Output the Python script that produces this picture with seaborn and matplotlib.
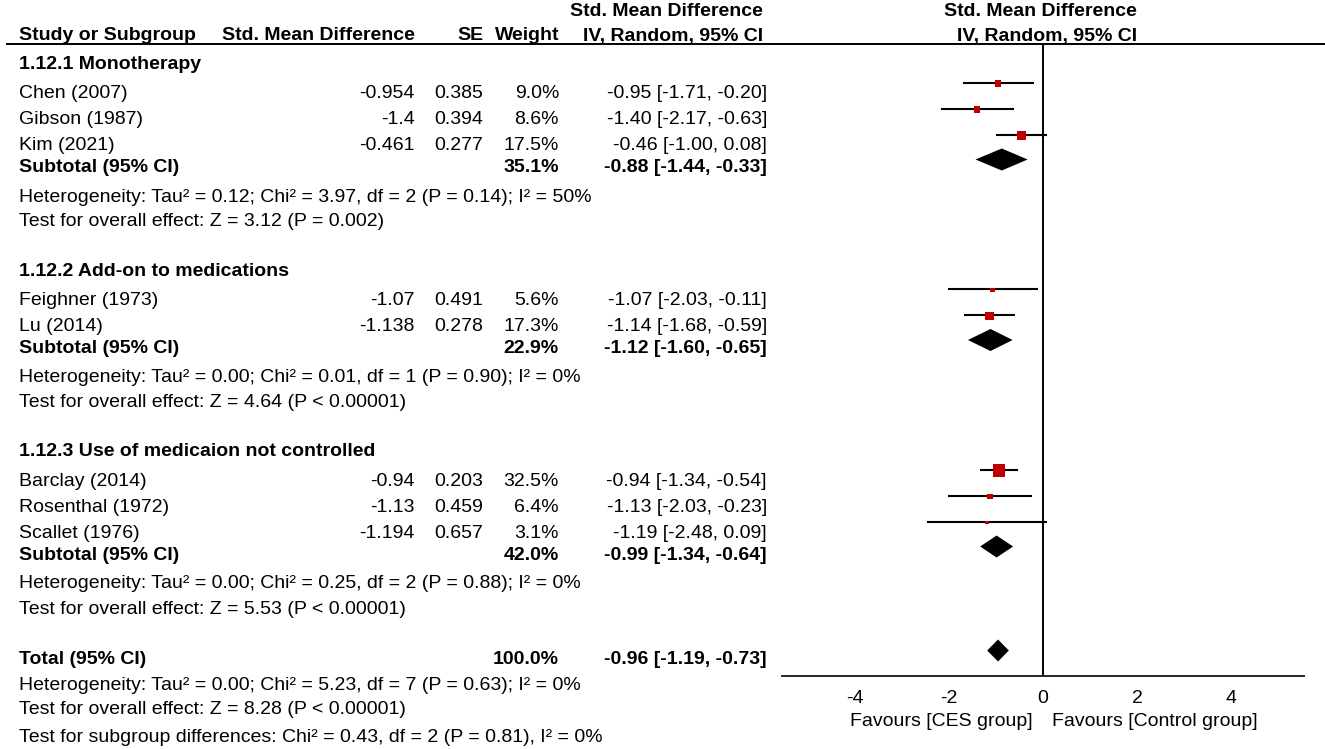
import numpy as np
import pandas as pd
import matplotlib
matplotlib.use('Agg')
import matplotlib.pyplot as plt
import seaborn as sns

# Study level data
groups = ['1.12.1 Monotherapy', '1.12.2 Add-on to medications',
          '1.12.3 Use of medicaion not controlled']
studies = ['Chen (2007)', 'Gibson (1987)', 'Kim (2021)',
           'Feighner (1973)', 'Lu (2014)',
           'Barclay (2014)', 'Rosenthal (1972)', 'Scallet (1976)']
study_group = [0, 0, 0, 1, 1, 2, 2, 2]
smd = [-0.954, -1.4, -0.461, -1.07, -1.138, -0.94, -1.13, -1.194]
se = [0.385, 0.394, 0.277, 0.491, 0.278, 0.203, 0.459, 0.657]
weight = [9.0, 8.6, 17.5, 5.6, 17.3, 32.5, 6.4, 3.1]
ci_lo = [-1.71, -2.17, -1.00, -2.03, -1.68, -1.34, -2.03, -2.48]
ci_hi = [-0.20, -0.63, 0.08, -0.11, -0.59, -0.54, -0.23, 0.09]

# Subtotals per subgroup, then the overall total
sub_weight = [35.1, 22.9, 42.0]
sub_est = [-0.88, -1.12, -0.99]
sub_lo = [-1.44, -1.60, -1.34]
sub_hi = [-0.33, -0.65, -0.64]
total_weight = 100.0
total_est, total_lo, total_hi = -0.96, -1.19, -0.73

het_text = ['Heterogeneity: Tau² = 0.12; Chi² = 3.97, df = 2 (P = 0.14); I² = 50%',
            'Heterogeneity: Tau² = 0.00; Chi² = 0.01, df = 1 (P = 0.90); I² = 0%',
            'Heterogeneity: Tau² = 0.00; Chi² = 0.25, df = 2 (P = 0.88); I² = 0%']
effect_text = ['Test for overall effect: Z = 3.12 (P = 0.002)',
               'Test for overall effect: Z = 4.64 (P < 0.00001)',
               'Test for overall effect: Z = 5.53 (P < 0.00001)']
total_het = 'Heterogeneity: Tau² = 0.00; Chi² = 5.23, df = 7 (P = 0.63); I² = 0%'
total_effect = 'Test for overall effect: Z = 8.28 (P < 0.00001)'
subgroup_test = 'Test for subgroup differences: Chi² = 0.43, df = 2 (P = 0.81), I² = 0%'

xticks = [-4, -2, 0, 2, 4]

# ---- layout (figure pixels) ----
W, H = 1325, 749
FS = 14.0
TEXT_DY = 2.5
RED = '#c00000'
X_NAME, X_SMD, X_SE, X_W, X_CI, X_CIHEAD, X_RHEAD = 19, 415, 483, 559, 767, 763, 1137
AX_TOP, AX_BOT = 44, 676

sns.set_style('white')
plt.rcParams['font.family'] = ['Liberation Sans', 'DejaVu Sans']

fig = plt.figure(figsize=(W / 100, H / 100), dpi=100)
bg = fig.add_axes([0, 0, 1, 1])
bg.set_xlim(0, W)
bg.set_ylim(H, 0)
bg.axis('off')


def txt(x, y, s, ha='left', bold=False):
    bg.text(x, y + TEXT_DY, s, ha=ha, va='center', fontsize=FS,
            fontweight='bold' if bold else 'normal', color='black')


# column headers
txt(X_CIHEAD, 9, 'Std. Mean Difference', ha='right', bold=True)
txt(X_RHEAD, 9, 'Std. Mean Difference', ha='right', bold=True)
txt(X_NAME, 33.5, 'Study or Subgroup', bold=True)
txt(X_SMD, 33.5, 'Std. Mean Difference', ha='right', bold=True)
txt(X_SE, 33.5, 'SE', ha='right', bold=True)
txt(X_W, 33.5, 'Weight', ha='right', bold=True)
txt(X_CIHEAD, 33.5, 'IV, Random, 95% CI', ha='right', bold=True)
txt(X_RHEAD, 33.5, 'IV, Random, 95% CI', ha='right', bold=True)
bg.plot([6, W], [AX_TOP, AX_TOP], color='black', lw=1.4, solid_capstyle='butt')

# row positions
study_y = np.zeros(len(studies))
sub_y = []
y = 62.0
for g, name in enumerate(groups):
    txt(X_NAME, y, name, bold=True)
    idx = [i for i, sg in enumerate(study_group) if sg == g]
    ys = y + 29.5 + 26 * np.arange(len(idx))
    study_y[idx] = ys
    ysub = ys[-1] + 22
    sub_y.append(ysub)
    txt(X_NAME, ysub, 'Subtotal (95% CI)', bold=True)
    txt(X_W, ysub, f'{sub_weight[g]:.1f}%', ha='right', bold=True)
    txt(X_CI, ysub, f'{sub_est[g]:.2f} [{sub_lo[g]:.2f}, {sub_hi[g]:.2f}]',
        ha='right', bold=True)
    txt(X_NAME, ysub + 29, het_text[g])
    txt(X_NAME, ysub + 54, effect_text[g])
    y = ysub + 54 + 49

y_total = y + 1
txt(X_NAME, y_total, 'Total (95% CI)', bold=True)
txt(X_W, y_total, f'{total_weight:.1f}%', ha='right', bold=True)
txt(X_CI, y_total, f'{total_est:.2f} [{total_lo:.2f}, {total_hi:.2f}]', ha='right', bold=True)
txt(X_NAME, y_total + 26, total_het)
txt(X_NAME, y_total + 51, total_effect)
txt(X_NAME, y_total + 78, subgroup_test)

for i, name in enumerate(studies):
    txt(X_NAME, study_y[i], name)
    txt(X_SMD, study_y[i], f'{smd[i]:g}', ha='right')
    txt(X_SE, study_y[i], f'{se[i]:.3f}', ha='right')
    txt(X_W, study_y[i], f'{weight[i]:.1f}%', ha='right')
    txt(X_CI, study_y[i], f'{smd[i]:.2f} [{ci_lo[i]:.2f}, {ci_hi[i]:.2f}]', ha='right')

# ---- forest panel ----
ax = fig.add_axes([782.3 / W, (H - AX_BOT) / H, 521.7 / W, (AX_BOT - AX_TOP) / H],
                  facecolor='none')

df = pd.DataFrame({'smd': smd, 'lo': ci_lo, 'hi': ci_hi, 'weight': weight,
                   'y': study_y - 9})
ax.hlines(df['y'], df['lo'], df['hi'], color='black', lw=1.5, zorder=2)
sns.scatterplot(data=df.assign(ym=df['y'] + 1), x='smd', y='ym', size='weight',
                sizes=(2.3 * min(weight), 2.3 * max(weight)),
                size_norm=(min(weight), max(weight)),
                marker='s', color=RED, linewidth=0, legend=False, ax=ax, zorder=3)

half_h = 11
for est, lo, hi, yc in zip(sub_est + [total_est], sub_lo + [total_lo],
                           sub_hi + [total_hi], sub_y + [y_total]):
    yc = yc - 6
    ax.fill([lo, est, hi, est], [yc, yc - half_h, yc, yc + half_h],
            color='black', lw=0, zorder=3)

ax.axvline(0, color='black', lw=1.4, zorder=1)
ax.set_xlim(-5.55, 5.55)
ax.set_ylim(AX_BOT, AX_TOP)
ax.set_xticks(xticks)
ax.set_xticklabels([str(t) for t in xticks])
ax.set_yticks([])
ax.set_xlabel('')
ax.set_ylabel('')
for side in ['top', 'left', 'right']:
    ax.spines[side].set_visible(False)
ax.spines['bottom'].set_linewidth(1.4)
ax.tick_params(axis='x', direction='inout', length=9.6, width=1.4,
               labelsize=FS, pad=5.5, colors='black')

txt(1033, 719, 'Favours [CES group]', ha='right')
txt(1052, 719, 'Favours [Control group]')

fig.savefig('out.png', dpi=100)
